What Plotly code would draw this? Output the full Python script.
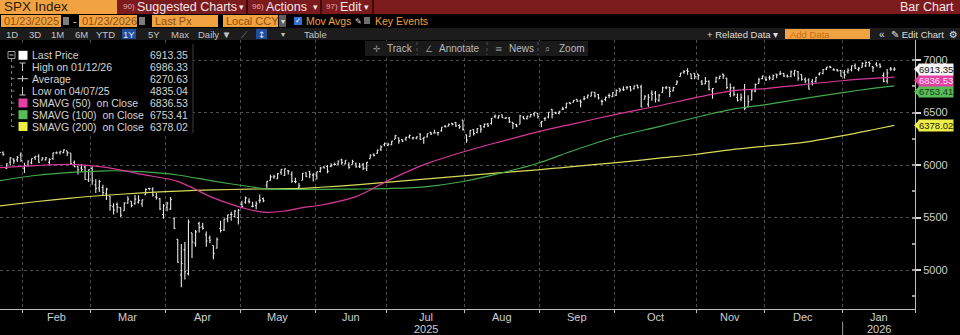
import plotly.graph_objects as go
import pandas as pd

# ---------------- trading calendar ----------------
start_date = "2025-01-23"
end_date = "2026-01-23"
market_holidays = ["2025-02-17", "2025-04-18", "2025-05-26", "2025-06-19", "2025-07-04",
                   "2025-09-01", "2025-11-27", "2025-12-25", "2026-01-01", "2026-01-19"]
sessions = [d for d in pd.bdate_range(start_date, end_date)
            if d.strftime("%Y-%m-%d") not in market_holidays]

# ---------------- SPX daily bars ----------------
opens = [
    # Jan 2025
    6076, 6121, 5969, 6026, 6058, 6050, 6096,
    # Feb
    5969.7, 5998, 6020.5, 6072.2, 6083, 6046.4, 6049.3, 6025, 6060.6, 6115.5, 6121.6, 6117.8, 6134.5,
    6114.8, 6026.7, 5982.7, 5970.9, 5981.9, 5856.7,
    # Mar
    5968.3, 5811.98, 5781.4, 5785.9, 5726, 5705.4, 5603.7, 5624.8, 5594.5, 5563.9, 5635.6, 5654.5,
    5632.4, 5646.9, 5630.7, 5718.1, 5775.9, 5771.7, 5695.6, 5679.9, 5527.9,
    # Apr
    5597.5, 5580.8, 5492.7, 5292.1, 4953.8, 5193.6, 4965.3, 5353.2, 5255.6, 5441.96, 5411.99, 5335.8,
    5305.5, 5232.9, 5207.7, 5395.9, 5381.4, 5489.7, 5529.2, 5508.9, 5499.4,
    # May
    5625.1, 5645.9, 5655.3, 5605.9, 5614.5, 5663.2, 5679.8, 5807.6, 5854, 5886.1, 5869.6, 5929.9,
    5902.9, 5944.7, 5910.4, 5841.3, 5781.9, 5854.1, 5925.6, 5939.9, 5903.7,
    # Jun
    5896.7, 5938.6, 5978.9, 5985.7, 5987.1, 6004.6, 6009.9, 6049.4, 6009.9, 6000.6, 6004, 6012.2,
    5987.9, 6004.6, 5969.7, 6061.2, 6104.2, 6112.1, 6150.7, 6193.4,
    # Jul
    6187.3, 6193.1, 6246.5, 6259.9, 6241.6, 6245.2, 6266.2, 6255.7, 6255.2, 6295.3, 6251.6, 6266.4,
    6311.2, 6304.7, 6306.6, 6326.9, 6368.6, 6370, 6397.7, 6403.8, 6377.3, 6427,
    # Aug
    6287.3, 6271.7, 6336.9, 6309.3, 6374.3, 6363.5, 6389.7, 6395.2, 6460.8, 6449.2, 6478.6, 6445,
    6446.9, 6405.9, 6384.9, 6388.1, 6457.7, 6440.2, 6457.4, 6486.6, 6491.4,
    # Sep
    6401.5, 6442.9, 6456.6, 6529.7, 6498.1, 6494.3, 6532.2, 6546.3, 6592.2, 6598.3, 6625.5, 6610.9,
    6629.1, 6645.5, 6654.4, 6693, 6670.8, 6608.6, 6623.6, 6661.6, 6650.8,
    # Oct
    6664.7, 6731.3, 6722.1, 6740.5, 6746.8, 6726.3, 6760.5, 6743.7, 6626.9, 6579.7, 6683.6, 6686.4,
    6615.5, 6690.8, 6736.2, 6740.3, 6707.2, 6767.8, 6843, 6884.2, 6900.3, 6868.1, 6873.4,
    # Nov
    6865.8, 6792.9, 6771.1, 6795.9, 6705.2, 6792.9, 6820.9, 6865.8, 6827.8, 6672.9, 6735.5, 6642.7,
    6626.1, 6721.2, 6555.4, 6619.2, 6703.7, 6777.2, 6822.7,
    # Dec
    6812.1, 6830.9, 6815.3, 6866.5, 6866.5, 6871.9, 6847.1, 6840, 6866.7, 6889.6, 6860.8, 6816.6,
    6810, 6794.5, 6794.3, 6865.9, 6870.6, 6912.9, 6935.1, 6907.5, 6904.2, 6900.1,
    # Jan 2026
    6879.3, 6886.6, 6907.3, 6944.2, 6910.2, 6931.1, 6944.1, 6977.4, 6937.4, 6960.5, 6960.5, 6853.9,
    6800.4, 6915.2, 6911.7,
]
highs = [
    6118.73, 6128.2, 6017, 6074.5, 6062.8, 6086.6, 6120.9,
    6022.1, 6042.5, 6062.9, 6084, 6101.3, 6073.4, 6076.3, 6063.2, 6116.9, 6127.5, 6129.6, 6147.4, 6134.5,
    6114.8, 6043.6, 5992.7, 6009.8, 5993.7, 5959.4,
    5986.1, 5865.1, 5860.6, 5812.1, 5783, 5705.4, 5636.3, 5642.2, 5597.8, 5645.3, 5703.5, 5654.5,
    5715.3, 5711.2, 5670.8, 5775.1, 5783.2, 5786.95, 5732.3, 5685.9, 5627.6,
    5650.6, 5695.3, 5499.5, 5292.1, 5246.6, 5267.5, 5481.3, 5353.2, 5381.5, 5459.5, 5450.4, 5367.2,
    5328.3, 5232.9, 5309.6, 5469.7, 5489.4, 5528.1, 5553.7, 5571.95, 5581.8,
    5658.9, 5700.7, 5683.9, 5649.6, 5654.99, 5720.1, 5691.3, 5844.2, 5906.6, 5906.6, 5924.6, 5958.6,
    5968.6, 5953.1, 5938.4, 5878.1, 5829.5, 5924.3, 5930.5, 5943.1, 5922.1,
    5937.4, 5981.4, 5990.5, 5999.7, 6016.9, 6021.3, 6043, 6059.4, 6045.4, 6026.2, 6050.8, 6023.3,
    6018.2, 6018.2, 6028.8, 6101.4, 6108.5, 6146.5, 6187.7, 6215.1,
    6210.8, 6227.6, 6284.7, 6262.3, 6242.7, 6269.4, 6290.2, 6269.6, 6272.3, 6302, 6266.3, 6301.9,
    6315.6, 6336.1, 6316.1, 6360.6, 6381.3, 6395.8, 6401.1, 6409.3, 6389.3, 6427,
    6288.3, 6330.9, 6337.6, 6352.8, 6379.8, 6395.2, 6400.9, 6446.6, 6480.3, 6473.2, 6481.3, 6455.3,
    6456.8, 6407.2, 6393.5, 6478.9, 6466.9, 6466.9, 6485, 6502.5, 6491.4,
    6416.5, 6453.7, 6502.5, 6532.7, 6508.2, 6513.9, 6555.97, 6592.9, 6600.2, 6616.6, 6626.99, 6624.1,
    6656.4, 6671.8, 6695, 6697.2, 6676.3, 6624.7, 6651.4, 6680, 6693.8,
    6718.4, 6731.9, 6750.9, 6749.5, 6752.7, 6755, 6764.6, 6764.2, 6664.2, 6676.5, 6711.4, 6705.4,
    6676.6, 6745, 6752.3, 6744.5, 6745.4, 6807.4, 6875.2, 6901.6, 6920.3, 6868.1, 6873.4,
    6867.1, 6808.8, 6838.6, 6806.4, 6733.8, 6841.3, 6849.1, 6869.9, 6829.6, 6775.2, 6748.8, 6680.3,
    6681.6, 6771.9, 6664.6, 6714.7, 6776.5, 6831.1, 6849.9,
    6843.7, 6851.6, 6862.4, 6866.5, 6895.8, 6878.5, 6861.6, 6900.5, 6903.4, 6895.8, 6862.9, 6832.5,
    6826.3, 6819.8, 6838.8, 6881.9, 6911.1, 6933.8, 6945.8, 6920.4, 6913.6, 6906.8,
    6904.1, 6920.3, 6948.4, 6965.7, 6933.6, 6978.4, 6986.33, 6985.8, 6941.3, 6979.3, 6967.3, 6880.4,
    6913.7, 6932.4, 6931.9,
]
lows = [
    6074.7, 6088.7, 5962.9, 5994.6, 6012.96, 6027.5, 6030.9,
    5923.9, 5990.9, 6007, 6046.8, 6019.96, 6044.8, 6042.3, 6003, 6051, 6107.6, 6099.5, 6111.2, 6084.6,
    6008.6, 5977.8, 5908.5, 5932.7, 5858.8, 5837.7,
    5810.9, 5732.6, 5742.4, 5711.6, 5666.3, 5564, 5528.4, 5546.1, 5504.65, 5563.9, 5631.1, 5597.8,
    5622.2, 5632.7, 5603.1, 5718.1, 5759.9, 5699.8, 5670.9, 5572.4, 5488.7,
    5558.5, 5571.5, 5390.8, 5069.9, 4835.04, 4910.4, 4948.4, 5115.3, 5220.8, 5358, 5386.4, 5220.8,
    5255.6, 5101.6, 5207.7, 5356.9, 5371.96, 5455.9, 5468.6, 5505.7, 5433.2,
    5597.4, 5631.5, 5634.5, 5597.8, 5578.6, 5635.7, 5644.98, 5776.9, 5853.9, 5868.2, 5867.4, 5907.4,
    5895.7, 5909.3, 5830.9, 5825.8, 5767.4, 5854.1, 5886.9, 5873.8, 5843.7,
    5861.4, 5929, 5966.1, 5921.2, 5978.6, 5994.2, 6000.3, 6002.3, 6003.9, 5963.2, 6004, 5974.8,
    5971.9, 5952.6, 5943.2, 6061.2, 6080.2, 6107.3, 6132.6, 6177.97,
    6177.97, 6188.3, 6246.5, 6201.5, 6217.97, 6231.9, 6251.8, 6242.1, 6245.7, 6241.6, 6201.9, 6262.8,
    6285.3, 6303.8, 6281.7, 6317.5, 6360.6, 6368.5, 6375.1, 6363, 6346, 6327.2,
    6212.7, 6271.7, 6281.5, 6301.9, 6306.1, 6355.3, 6361.4, 6385.8, 6445, 6441.1, 6447.7, 6437.6,
    6400.2, 6343.9, 6360.6, 6388.1, 6438.1, 6433.5, 6455.3, 6462.3, 6443.8,
    6360.6, 6418.5, 6445.6, 6443.8, 6485.3, 6482.6, 6524.3, 6537.5, 6580.7, 6594.3, 6600.2, 6551.1,
    6616.8, 6634.2, 6653.7, 6642.5, 6623.9, 6569.9, 6608.2, 6636.5, 6648.7,
    6656.2, 6693.2, 6705.7, 6717.8, 6699.4, 6719.9, 6727.6, 6550.8, 6626.9, 6552.8, 6612.4, 6596.4,
    6603.3, 6690.8, 6722.4, 6647.8, 6701.2, 6766.9, 6842, 6868.4, 6858.8, 6819.7, 6816.8,
    6809.6, 6760.4, 6770.6, 6708.6, 6631.3, 6781.6, 6818.3, 6819.7, 6724.2, 6646.6, 6653.8, 6604.3,
    6607.8, 6521.8, 6550.1, 6617.1, 6692.2, 6777.2, 6815.7,
    6799.9, 6806.6, 6810.4, 6827.1, 6858.3, 6838.8, 6833.8, 6836.4, 6841.9, 6801.5, 6801.6, 6778.9,
    6719.7, 6758, 6786.9, 6853.2, 6864.4, 6904.3, 6921.4, 6896.5, 6890.4, 6843.5,
    6824.3, 6872.1, 6890.9, 6913.9, 6893.1, 6925.4, 6934.1, 6936.6, 6885.2, 6937.1, 6923.5, 6789.1,
    6775.5, 6895.2, 6894.6,
]
closes = [
    6118.71, 6101.24, 6012.28, 6067.70, 6039.31, 6071.17, 6040.53,
    5994.57, 6037.88, 6061.48, 6083.57, 6025.99, 6066.44, 6068.50, 6051.97, 6115.07, 6114.63, 6129.58,
    6144.15, 6117.52, 6013.13, 5983.25, 5955.25, 5956.06, 5861.57, 5954.50,
    5849.72, 5778.15, 5842.63, 5738.52, 5770.20, 5614.56, 5572.07, 5599.30, 5521.52, 5638.94, 5675.12,
    5614.66, 5675.29, 5662.89, 5667.56, 5767.57, 5776.65, 5712.20, 5693.31, 5580.94, 5611.85,
    5633.07, 5670.97, 5396.52, 5074.08, 5062.25, 4982.77, 5456.90, 5268.05, 5363.36, 5405.97, 5396.63,
    5275.70, 5282.70, 5158.20, 5287.76, 5375.86, 5484.77, 5525.21, 5528.75, 5560.83, 5569.06,
    5604.14, 5686.67, 5650.38, 5606.91, 5631.28, 5663.94, 5659.91, 5844.19, 5886.55, 5892.58, 5916.93,
    5958.38, 5963.60, 5940.46, 5844.61, 5842.01, 5802.82, 5921.54, 5888.55, 5912.17, 5911.69,
    5935.94, 5970.37, 5970.81, 5939.30, 6000.36, 6005.88, 6038.81, 6022.24, 6045.26, 5976.97, 6033.11,
    5982.72, 5980.87, 5967.84, 6025.17, 6092.18, 6092.16, 6141.02, 6173.07, 6204.95,
    6198.01, 6227.42, 6279.35, 6229.98, 6225.52, 6263.26, 6280.46, 6259.75, 6268.56, 6243.76, 6263.70,
    6297.36, 6296.79, 6305.60, 6309.62, 6358.91, 6363.35, 6388.64, 6389.77, 6370.86, 6362.90, 6339.39,
    6238.01, 6329.94, 6299.19, 6345.06, 6340.00, 6389.45, 6373.45, 6445.76, 6466.58, 6468.54, 6449.80,
    6449.15, 6411.37, 6395.78, 6370.17, 6466.91, 6439.32, 6465.94, 6481.40, 6501.86, 6460.26,
    6415.54, 6448.26, 6502.08, 6481.50, 6495.15, 6512.61, 6532.04, 6587.47, 6584.29, 6615.28, 6606.76,
    6600.35, 6631.96, 6664.36, 6693.75, 6656.92, 6637.97, 6604.72, 6643.70, 6661.21, 6688.46,
    6711.20, 6715.35, 6715.79, 6740.28, 6714.59, 6753.72, 6735.11, 6552.51, 6654.72, 6644.31, 6671.06,
    6629.07, 6664.01, 6735.13, 6735.35, 6699.40, 6738.44, 6791.69, 6875.16, 6890.89, 6890.59, 6822.34,
    6840.20,
    6851.97, 6771.55, 6796.29, 6720.32, 6728.80, 6832.43, 6846.61, 6850.92, 6737.49, 6734.11, 6672.41,
    6617.32, 6642.16, 6538.76, 6602.99, 6705.12, 6765.88, 6812.61, 6849.09,
    6812.63, 6829.37, 6849.72, 6857.12, 6870.40, 6846.51, 6840.51, 6886.68, 6901.00, 6827.41, 6816.51,
    6800.26, 6721.43, 6774.76, 6834.50, 6878.49, 6909.79, 6932.05, 6929.94, 6905.74, 6896.24, 6845.50,
    6858.47, 6902.05, 6944.82, 6920.93, 6921.46, 6966.28, 6977.27, 6963.74, 6926.60, 6944.47, 6940.01,
    6796.86, 6875.62, 6913.35, 6913.35,
]

# ---------------- simple moving averages (sampled sessions) ----------------
ma_sessions = [0, 10, 20, 30, 40, 50, 60, 70, 75, 80, 85, 90, 100, 110, 120, 130, 140, 151,
               160, 173, 185, 195, 205, 215, 225, 237, 245, 251]
sma50 = [5975, 5995, 6006, 5977, 5910, 5844, 5687, 5576, 5549, 5562, 5594, 5617, 5699, 5868,
         6015, 6124, 6218, 6316, 6385, 6483, 6564, 6640, 6704, 6728, 6764, 6805, 6825, 6836.53]
sma100 = [5850, 5900, 5930, 5945, 5936, 5905, 5846, 5795, 5770, 5767, 5767, 5768, 5771, 5777,
          5795, 5843, 5918, 6017, 6126, 6269, 6366, 6450, 6527, 6575, 6630, 6692, 6730, 6753.41]
sma200 = [5610, 5650, 5685, 5712, 5735, 5752, 5763, 5770, 5773, 5775, 5778, 5788, 5810, 5839,
          5868, 5897, 5925, 5953, 5983, 6022, 6065, 6100, 6145, 6180, 6213, 6282, 6336, 6378.02]

average_price = 6270.63
y_ticks = [5000, 5500, 6000, 6500, 7000]

# ---------------- styling ----------------
FONT = "Liberation Sans, Arial, sans-serif"
SYM = "DejaVu Sans, sans-serif"
TXT = "#cfcfcf"
AMBER = "#f2a341"
AMBER_TXT = "#8f4f0c"
RED = "#7c1b1e"
BAR = "#e8e8e8"
C50, C100, C200 = "#d6399a", "#43a94b", "#d9d95a"
TAG50, TAG100, TAG200 = "#e43fa3", "#58bd57", "#eded4a"

PLOT_L, PLOT_R, PLOT_T, PLOT_B = 0, 915, 40, 309
X_RANGE = [0.14, 256.8]
Y_RANGE = [4628.6, 7190.5]


def X(px):
    return (px - PLOT_L) / (PLOT_R - PLOT_L)


def Y(py):
    return (PLOT_B - py) / (PLOT_B - PLOT_T)


shapes, annotations = [], []


def rect(x0, y0, x1, y1, fill, line=None):
    shapes.append(dict(type="rect", xref="paper", yref="paper", x0=X(x0), x1=X(x1), y0=Y(y1), y1=Y(y0),
                       fillcolor=fill, line=dict(width=1 if line else 0, color=line or fill), layer="above"))


def seg(x0, y0, x1, y1, color, width=1, dash=None):
    shapes.append(dict(type="line", xref="paper", yref="paper", x0=X(x0), x1=X(x1), y0=Y(y0), y1=Y(y1),
                       line=dict(color=color, width=width, dash=dash or "solid"), layer="above"))


def txt(px, py, s, size=11, color=TXT, anchor="left", family=FONT, bg=None):
    annotations.append(dict(xref="paper", yref="paper", x=X(px), y=Y(py), text=s, showarrow=False,
                            xanchor=anchor, yanchor="middle", font=dict(family=family, size=size, color=color),
                            bgcolor=bg, borderpad=0))


# ---------------- month / year axis positions ----------------
idx = list(range(len(sessions)))
bounds, month_names, month_years = [], [], []
for i in range(1, len(sessions)):
    if sessions[i].month != sessions[i - 1].month:
        bounds.append(i - 0.5)
        month_names.append(sessions[i].strftime("%b"))
        month_years.append(sessions[i].year)
edges = bounds + [X_RANGE[1]]
centers = [(edges[k] + edges[k + 1]) / 2 for k in range(len(bounds))]

# ---------------- traces ----------------
fig = go.Figure()
for vals, col in [(sma200, C200), (sma100, C100), (sma50, C50)]:
    fig.add_trace(go.Scatter(x=ma_sessions, y=vals, mode="lines",
                             line=dict(color=col, width=1.2, shape="spline", smoothing=0.8),
                             hoverinfo="skip", showlegend=False))
fig.add_trace(go.Ohlc(x=idx, open=opens, high=highs, low=lows, close=closes, tickwidth=0.35,
                      increasing=dict(line=dict(color=BAR, width=1.1)),
                      decreasing=dict(line=dict(color=BAR, width=1.1)),
                      hoverinfo="skip", showlegend=False))

# ---------------- header rows ----------------
rect(0, 0, 960, 14, RED)
rect(0, 0, 117, 14, AMBER)
txt(3, 7, "SPX Index", 13.5, "#2b1a06")
for sx in (247, 321, 373):
    seg(sx, 0, sx, 14, "#2a0508", 1.5)
for x0, num, label, arrow_x in [(122, "90)", "Suggested Charts", 238), (251, "96)", "Actions", 312),
                                (325, "97)", "Edit", 363)]:
    txt(x0, 7, num, 8, "#e9a5a5")
    txt(x0 + 14, 7, label, 12.5, "#f3e6e6")
    txt(arrow_x, 7, "▾", 9, "#f3e6e6", family=SYM)
txt(955, 7, "Bar Chart", 12.5, "#f3e6e6", anchor="right")

rect(0, 14, 960, 28, "#000000")
for x0, x1, label in [(1, 61, "01/23/2025"), (79, 137, "01/23/2026"), (152, 218, "Last Px"), (223, 278, "Local CCY")]:
    rect(x0, 15, x1, 27, AMBER)
    txt(x0 + 2, 21, label, 11, AMBER_TXT)
for cx in (63, 139):
    rect(cx, 17, cx + 6, 25, "#7d7d7d")
txt(72, 21, "-", 11, TXT)
rect(279, 15, 286, 27, "#5e5e5e")
txt(282.5, 21, "▾", 8, "#dddddd", anchor="center", family=SYM)
rect(294, 17, 302, 25, "#2f6fd6")
txt(298, 21, "✓", 7, "#ffffff", anchor="center", family=SYM)
txt(305, 21, "Mov Avgs", 10.5, "#f0a03a")
txt(354, 21, "✎", 8, "#dddddd", family=SYM)
rect(364, 17, 370, 24, "#6d6d6d")
txt(374, 21, "Key Events", 10.5, "#f0a03a")

rect(0, 28, 960, 40, "#1c1c1c")
for cx, label in [(12, "1D"), (35, "3D"), (57, "1M"), (81, "6M"), (105, "YTD"), (154, "5Y"), (180, "Max"),
                  (214, "Daily ▼"), (315, "Table")]:
    txt(cx, 34.5, label, 9.5, "#c4c4c4", anchor="center")
rect(122, 29, 136, 39, "#1f4e9c")
txt(129, 34.5, "1Y", 9.5, "#dce6ff", anchor="center")
txt(244, 34.5, "⟋", 9, "#8a8a8a", anchor="center", family=SYM)
rect(256, 29, 267, 39, "#1f4e9c")
txt(261.5, 34.5, "↕", 9, "#dce6ff", anchor="center", family=SYM)
txt(283, 34.5, "▾", 8, "#c4c4c4", anchor="center", family=SYM)
txt(706, 34.5, "+ Related Data ▾", 9.5, "#dedede")
rect(785, 29, 870, 39, AMBER)
txt(789, 34.5, "Add Data", 9.5, "#c36f14")
txt(878, 34.5, "«", 10, "#dedede")
txt(890, 34.5, "✎ Edit Chart", 9.5, "#dedede")
txt(953, 34.5, "⚙", 10, "#dedede", anchor="center", family=SYM)

# chart toolbar
rect(365, 41, 588, 56, "#1a1a1a")
for sx in (417, 487, 538):
    seg(sx, 42, sx, 55, "#555555", 1, "dot")
for px, icon, label in [(372, "✛", "Track"), (424, "∠", "Annotate"), (494, "≡", "News"), (544, "⌕", "Zoom")]:
    txt(px, 48.5, icon, 9, "#8c8c8c", family=SYM)
    txt(px + 14, 48.5, label, 10, "#b9b9b9")

# ---------------- legend panel ----------------
rect(0, 44, 193, 133, "#000000")
seg(193, 44, 193, 133, "#3c3c3c")
rows = [55.3, 67, 78.7, 91, 103, 114.7, 126.5]
rect(8, 51.5, 15, 58.5, "#000000", "#9a9a9a")
seg(9.5, 55, 13.5, 55, "#bdbdbd")
seg(11.5, 59, 11.5, 126.5, "#7a7a7a", 1, "dot")
for ry in rows[1:]:
    seg(11.5, ry, 17, ry, "#7a7a7a", 1, "dot")
rect(18.5, rows[0] - 4.5, 27.5, rows[0] + 4.5, "#ffffff")
# high / average / low glyphs
seg(19.5, rows[1] - 4, 25.5, rows[1] - 4, "#c8c8c8")
seg(22.5, rows[1] - 4, 22.5, rows[1] + 4, "#c8c8c8")
seg(17.5, rows[2], 28, rows[2], "#c8c8c8")
seg(22.5, rows[2] - 3, 22.5, rows[2] + 3, "#c8c8c8")
seg(22.5, rows[3] - 4, 22.5, rows[3] + 4, "#c8c8c8")
seg(19.5, rows[3] + 4, 25.5, rows[3] + 4, "#c8c8c8")
for ry, col in zip(rows[4:], (TAG50, TAG100, TAG200)):
    rect(18.5, ry - 4.5, 27.5, ry + 4.5, col)

hi_i = max(idx, key=lambda i: highs[i])
lo_i = min(idx, key=lambda i: lows[i])
nb = "\u00a0"
legend_rows = [
    ("Last Price", closes[-1]),
    ("High on " + sessions[hi_i].strftime("%m/%d/%y"), highs[hi_i]),
    ("Average", average_price),
    ("Low on " + sessions[lo_i].strftime("%m/%d/%y"), lows[lo_i]),
    ("SMAVG (50)" + nb * 2 + "on Close", sma50[-1]),
    ("SMAVG (100)" + nb * 2 + "on Close", sma100[-1]),
    ("SMAVG (200)" + nb * 2 + "on Close", sma200[-1]),
]
for ry, (label, val) in zip(rows, legend_rows):
    txt(31, ry, label.replace(" ", nb), 10.5, "#d4d4d4")
    txt(189, ry, f"{val:.2f}", 10.5, "#d4d4d4", anchor="right")

# ---------------- last-value tags on the price axis ----------------
for val, bg, fg, shift in [(sma100[-1], TAG100, "#173d17", -5.5), (sma50[-1], TAG50, "#fde6f4", -3),
                           (closes[-1], "#f4f4f4", "#111111", 0), (sma200[-1], TAG200, "#1d1d00", 0)]:
    annotations.append(dict(xref="paper", yref="y", x=X(918), y=val, yshift=shift, text=f"{val:.2f}",
                            showarrow=False, xanchor="left", yanchor="middle", bgcolor=bg, borderpad=0,
                            font=dict(family=FONT, size=9.5, color=fg)))
    shapes.append(dict(type="path", xref="paper", yref="y", xsizemode="pixel", ysizemode="pixel",
                       xanchor=X(918), yanchor=val, path=f"M -4,{shift} L 1,{shift + 5} L 1,{shift - 5} Z",
                       fillcolor=bg, line=dict(width=0), layer="above"))

# ---------------- month labels, year labels and year divider ----------------
for name, yr, c in zip(month_names, month_years, centers):
    annotations.append(dict(xref="x", yref="paper", x=c, y=Y(316.5), text=name, showarrow=False,
                            xanchor="center", yanchor="middle", font=dict(family=FONT, size=11, color=TXT)))
    if name in ("Jul", "Jan"):
        annotations.append(dict(xref="x", yref="paper", x=c, y=Y(329), text=str(yr), showarrow=False,
                                xanchor="center", yanchor="middle", font=dict(family=FONT, size=11, color=TXT)))
jan_b = bounds[month_names.index("Jan")]
shapes.append(dict(type="line", xref="x", yref="paper", x0=jan_b, x1=jan_b, y0=Y(321.5), y1=Y(335),
                   line=dict(color="#9a9a9a", width=1), layer="above"))

fig.update_layout(
    width=960, height=335, margin=dict(l=PLOT_L, r=960 - PLOT_R, t=PLOT_T, b=335 - PLOT_B),
    paper_bgcolor="#000000", plot_bgcolor="#000000", showlegend=False,
    shapes=shapes, annotations=annotations,
    xaxis=dict(range=X_RANGE, rangeslider=dict(visible=False), tickmode="array", tickvals=bounds + [X_RANGE[1]],
               showticklabels=False, ticks="outside", ticklen=3, tickcolor="#bdbdbd",
               showgrid=True, gridcolor="#4e4e4e", griddash="dot", gridwidth=1, zeroline=False, showline=True,
               linecolor="#bdbdbd", linewidth=1),
    yaxis=dict(range=Y_RANGE, side="right", tickmode="array", tickvals=y_ticks,
               ticktext=[str(v) for v in y_ticks], ticks="outside", ticklen=5, tickwidth=2, tickcolor="#d8d8d8",
               showgrid=True, gridcolor="#4e4e4e", griddash="dot", gridwidth=1, zeroline=False,
               showline=True, linecolor="#bdbdbd", linewidth=1,
               tickfont=dict(family=FONT, size=11, color=TXT),
               minor=dict(dtick=250, ticks="inside", ticklen=3, tickcolor="#9a9a9a", showgrid=False)),
)

fig.write_html("out.html")
